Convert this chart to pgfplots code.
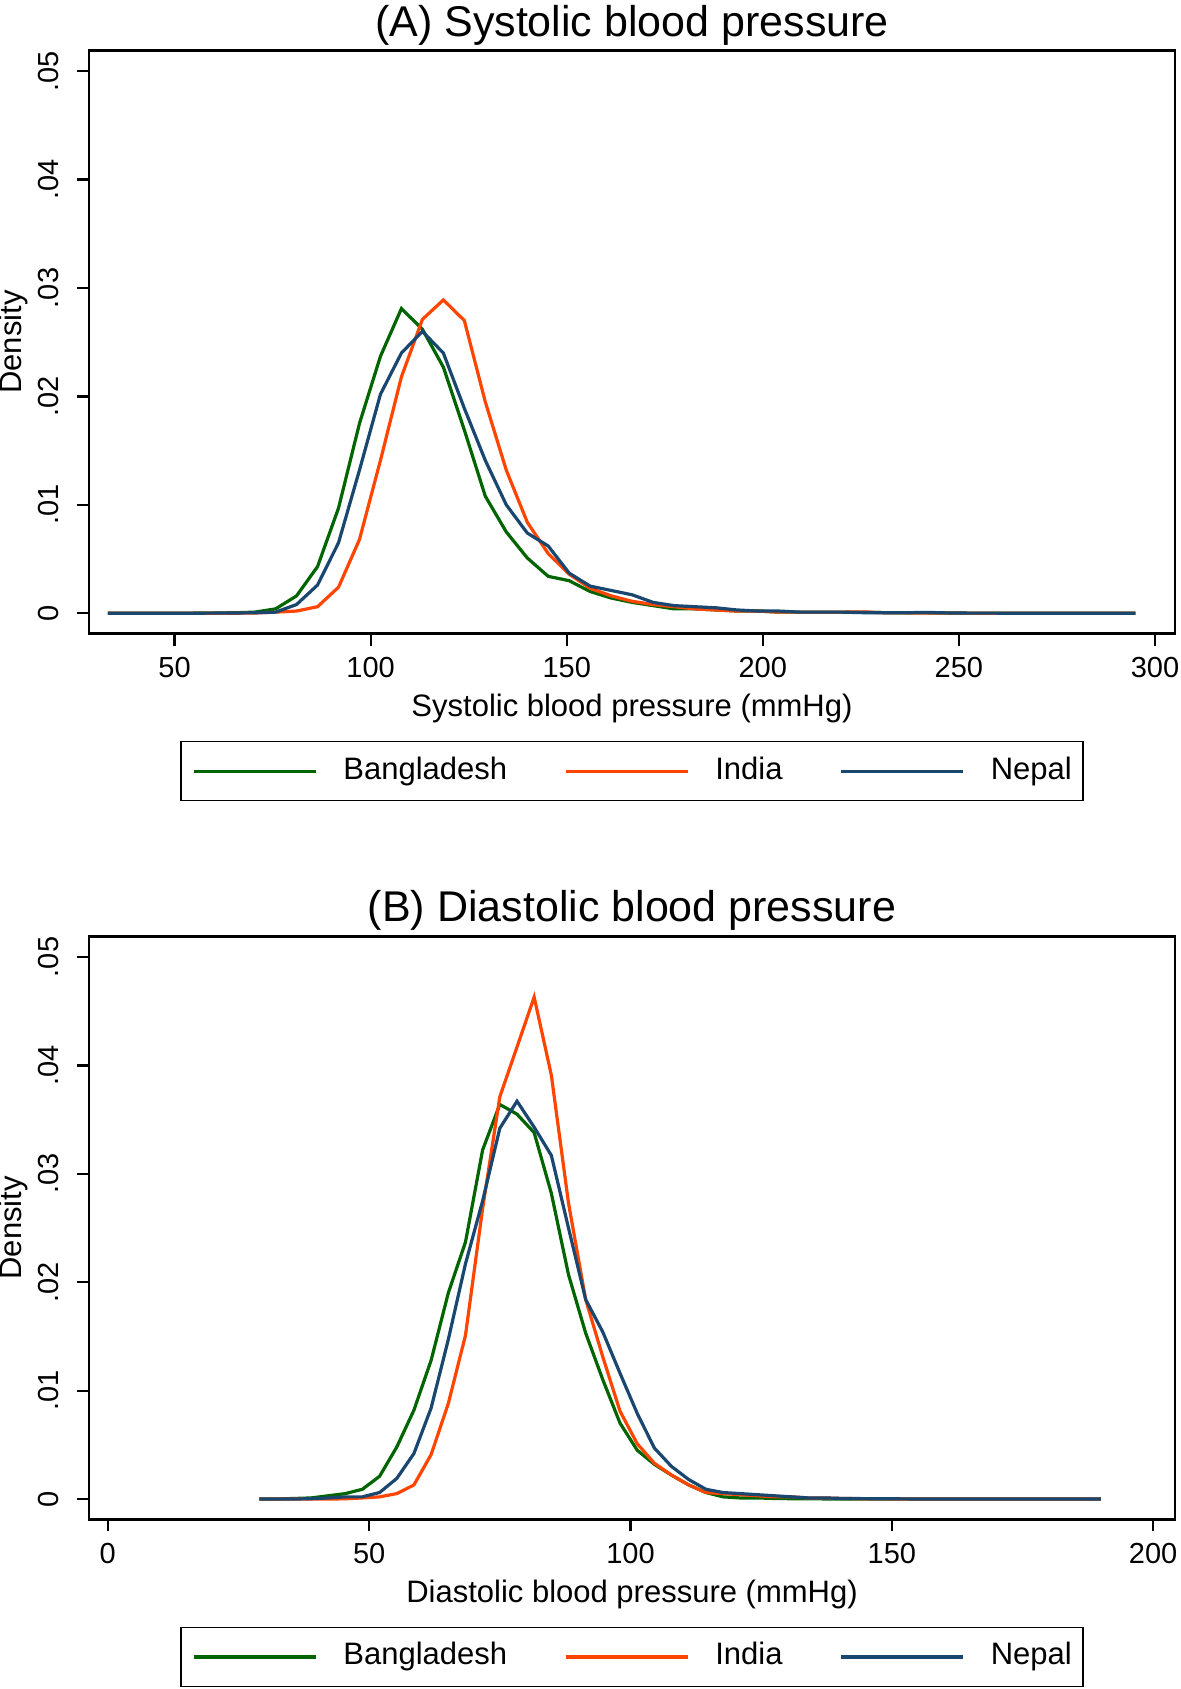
\documentclass[border=0pt]{standalone}
\usepackage{fontspec}
\setmainfont{Liberation Sans}
\usepackage{pgfplots}
\pgfplotsset{compat=1.18}
\definecolor{bgd}{RGB}{0,100,0}
\definecolor{ind}{RGB}{255,69,0}
\definecolor{nep}{RGB}{26,71,111}
\newcommand{\tf}{\fontsize{14.5}{17}\selectfont}
\newcommand{\lf}{\fontsize{15.5}{18}\selectfont}
\pgfplotsset{
  bp/.style={
    scale only axis, width=542.6pt, height=291.5pt,
    axis line style={line width=1.1pt},
    every tick/.style={line width=1.1pt, black},
    tick align=outside, major tick length=6pt,
    xtick pos=left, ytick pos=left,
    scaled y ticks=false, scaled x ticks=false,
    ymin=-0.00188, ymax=0.0519,
    ytick={0,0.01,0.02,0.03,0.04,0.05},
    yticklabels={0,.01,.02,.03,.04,.05},
    yticklabel style={rotate=90, anchor=south, font=\tf},
    yticklabel shift=6pt,
    xticklabel style={font=\tf},
    xticklabel shift=2.5pt,
    ylabel={Density},
    ylabel style={at={(axis description cs:-0.0695,0.5)}, anchor=center, font=\lf},
    xlabel style={at={(axis description cs:0.5,-0.129)}, anchor=center, font=\lf},
    every axis title/.style={at={(axis description cs:0.5,1)}, anchor=center, yshift=12.8pt, font=\fontsize{21.5}{25}\selectfont},
    legend columns=3,
    legend style={at={(axis description cs:0.5,-0.1842)}, anchor=north, draw=black, line width=0.75pt,
      font=\lf, inner xsep=5.5pt, inner ysep=7.5pt,
      nodes={inner sep=0pt, text height=11.2pt, text depth=3.3pt},
      /tikz/every odd column/.append style={column sep=13pt},
      /tikz/every even column/.append style={column sep=28.5pt}},
    legend image code/.code={\draw[#1] (0pt,0pt) -- (61pt,0pt);},
    every axis plot/.append style={line width=1.6pt, mark=none},
  }
}
\begin{document}
\begin{tikzpicture}
\useasboundingbox (-44.7pt,-527.7pt) rectangle (545.8pt,316.8pt);
\begin{axis}[bp, at={(0pt,0pt)},
  title={(A) Systolic blood pressure},
  xlabel={Systolic blood pressure (mmHg)},
  xmin=28.3, xmax=305.0,
  xtick={50,100,150,200,250,300},
  xticklabels={50,100,150,200,250,300}]
\addplot[bgd] coordinates {
(33.00,0) (38.35,0) (43.69,0) (49.04,0) (54.39,0.00001) (59.73,0.00002) (65.08,0.00004) (70.43,0.0001)
(75.78,0.0004) (81.12,0.0016) (86.47,0.0043) (91.82,0.0097) (97.16,0.0175) (102.51,0.0237)
(107.86,0.0281) (113.20,0.0262) (118.55,0.0227) (123.90,0.0169) (129.24,0.0108) (134.59,0.0075)
(139.94,0.0051) (145.29,0.0034) (150.63,0.0030) (155.98,0.0020) (161.33,0.0014) (166.67,0.0010)
(172.02,0.0007) (177.37,0.0004) (182.71,0.0004) (188.06,0.0003) (193.41,0.0002) (198.76,0.0002)
(204.10,0.0001) (209.45,0.0001) (214.80,0.0001) (220.14,0.0001) (225.49,0.0001) (230.84,0.00005)
(236.18,0.00003) (241.53,0.00003) (246.88,0.00002) (252.22,0.00001) (257.57,0) (262.92,0)
(268.27,0) (273.61,0) (278.96,0) (284.31,0) (289.65,0) (295.00,0)
};
\addlegendentry{Bangladesh}
\addplot[ind] coordinates {
(33.00,0) (38.35,0) (43.69,0) (49.04,0) (54.39,0) (59.73,0) (65.08,0) (70.43,0.00002)
(75.78,0.0001) (81.12,0.0002) (86.47,0.0006) (91.82,0.0024) (97.16,0.0068) (102.51,0.0141)
(107.86,0.0218) (113.20,0.0271) (118.55,0.0289) (123.90,0.0270) (129.24,0.0195) (134.59,0.0132)
(139.94,0.0084) (145.29,0.0055) (150.63,0.0036) (155.98,0.0023) (161.33,0.0016) (166.67,0.0011)
(172.02,0.0008) (177.37,0.0006) (182.71,0.0004) (188.06,0.0003) (193.41,0.0002) (198.76,0.0002)
(204.10,0.0001) (209.45,0.0001) (214.80,0.0001) (220.14,0.0001) (225.49,0.00012) (230.84,0.00005)
(236.18,0.00003) (241.53,0.00002) (246.88,0.00001) (252.22,0.00001) (257.57,0) (262.92,0)
(268.27,0) (273.61,0) (278.96,0) (284.31,0) (289.65,0) (295.00,0)
};
\addlegendentry{India}
\addplot[nep] coordinates {
(33.00,0) (38.35,0) (43.69,0) (49.04,0) (54.39,0) (59.73,0.00001) (65.08,0.00002) (70.43,0.00004)
(75.78,0.0001) (81.12,0.0008) (86.47,0.0026) (91.82,0.0065) (97.16,0.0132) (102.51,0.0202)
(107.86,0.0240) (113.20,0.0260) (118.55,0.0240) (123.90,0.0189) (129.24,0.0141) (134.59,0.0100)
(139.94,0.0074) (145.29,0.0062) (150.63,0.0037) (155.98,0.0025) (161.33,0.0021) (166.67,0.0017)
(172.02,0.0010) (177.37,0.0007) (182.71,0.0006) (188.06,0.0005) (193.41,0.0003) (198.76,0.0002)
(204.10,0.0002) (209.45,0.0001) (214.80,0.0001) (220.14,0.0001) (225.49,0.00005) (230.84,0.00005)
(236.18,0.00004) (241.53,0.00008) (246.88,0.00003) (252.22,0.00001) (257.57,0.00001) (262.92,0)
(268.27,0) (273.61,0) (278.96,0) (284.31,0) (289.65,0) (295.00,0)
};
\addlegendentry{Nepal}
\end{axis}
\begin{axis}[bp, at={(0pt,-442.9pt)},
  title={(B) Diastolic blood pressure},
  xlabel={Diastolic blood pressure (mmHg)},
  xmin=-3.52, xmax=204.1,
  xtick={0,50,100,150,200},
  xticklabels={0,50,100,150,200}]
\addplot[bgd] coordinates {
(29.00,0) (32.29,0) (35.57,0.00005) (38.86,0.0001) (42.14,0.0003) (45.43,0.0005) (48.71,0.0009)
(52.00,0.0021) (55.29,0.0048) (58.57,0.0082) (61.86,0.0128) (65.14,0.0190) (68.43,0.0237)
(71.71,0.0322) (75.00,0.0364) (78.29,0.0355) (81.57,0.0338) (84.86,0.0282) (88.14,0.0207)
(91.43,0.0153) (94.71,0.0110) (98.00,0.0070) (101.29,0.0045) (104.57,0.0032) (107.86,0.0022)
(111.14,0.0013) (114.43,0.0006) (117.71,0.0002) (121.00,0.0001) (124.29,0.0001) (127.57,0.00005)
(130.86,0.00003) (134.14,0.00002) (137.43,0.00001) (140.71,0.00001) (144.00,0) (147.29,0)
(150.57,0) (153.86,0) (157.14,0) (160.43,0) (163.71,0) (167.00,0) (170.29,0) (173.57,0)
(176.86,0) (180.14,0) (183.43,0) (186.71,0) (190.00,0)
};
\addlegendentry{Bangladesh}
\addplot[ind] coordinates {
(29.00,0) (32.29,0) (35.57,0) (38.86,0) (42.14,0) (45.43,0.00002) (48.71,0.0001)
(52.00,0.0002) (55.29,0.0005) (58.57,0.0013) (61.86,0.0041) (65.14,0.0088) (68.43,0.0151)
(71.71,0.0268) (75.00,0.0371) (78.29,0.0417) (81.57,0.0463) (84.86,0.0391) (88.14,0.0273)
(91.43,0.0184) (94.71,0.0131) (98.00,0.0081) (101.29,0.0051) (104.57,0.0033) (107.86,0.0022)
(111.14,0.0013) (114.43,0.0006) (117.71,0.0005) (121.00,0.0004) (124.29,0.0003) (127.57,0.0002)
(130.86,0.0002) (134.14,0.0001) (137.43,0.0001) (140.71,0.00005) (144.00,0.00003) (147.29,0.00002)
(150.57,0.00001) (153.86,0) (157.14,0) (160.43,0) (163.71,0) (167.00,0) (170.29,0) (173.57,0)
(176.86,0) (180.14,0) (183.43,0) (186.71,0) (190.00,0)
};
\addlegendentry{India}
\addplot[nep] coordinates {
(29.00,0) (32.29,0) (35.57,0) (38.86,0.00003) (42.14,0.0001) (45.43,0.0002) (48.71,0.0002)
(52.00,0.0006) (55.29,0.0019) (58.57,0.0042) (61.86,0.0084) (65.14,0.0147) (68.43,0.0217)
(71.71,0.0275) (75.00,0.0342) (78.29,0.0367) (81.57,0.0343) (84.86,0.0317) (88.14,0.0250)
(91.43,0.0184) (94.71,0.0154) (98.00,0.0116) (101.29,0.0079) (104.57,0.0047) (107.86,0.0030)
(111.14,0.0018) (114.43,0.0009) (117.71,0.0006) (121.00,0.0005) (124.29,0.0004) (127.57,0.0003)
(130.86,0.0002) (134.14,0.0001) (137.43,0.0001) (140.71,0.00005) (144.00,0.00004) (147.29,0.00003)
(150.57,0.00002) (153.86,0.00001) (157.14,0) (160.43,0) (163.71,0) (167.00,0) (170.29,0) (173.57,0)
(176.86,0) (180.14,0) (183.43,0) (186.71,0) (190.00,0)
};
\addlegendentry{Nepal}
\end{axis}
\end{tikzpicture}
\end{document}
